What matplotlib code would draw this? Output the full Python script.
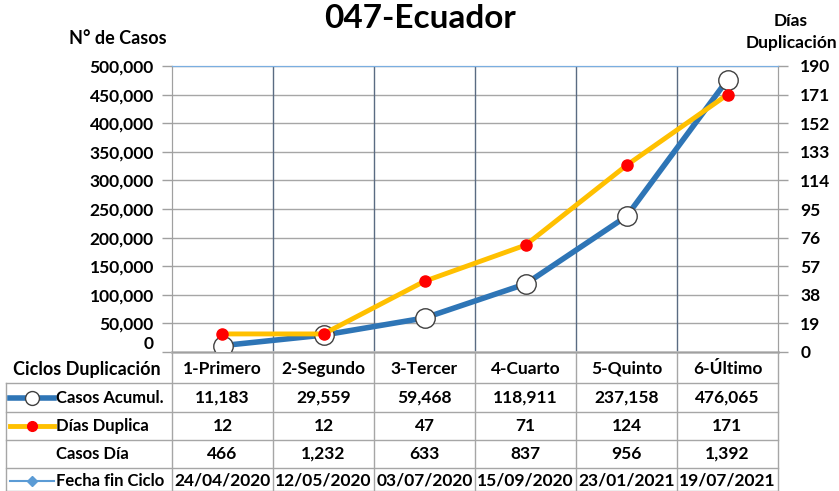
import matplotlib
matplotlib.use("Agg")
import matplotlib.pyplot as plt
import matplotlib.transforms as mtransforms
from matplotlib.lines import Line2D
from matplotlib.ticker import FuncFormatter

plt.rcParams['font.family'] = ['Lato', 'DejaVu Sans']

ciclos = ['1-Primero', '2-Segundo', '3-Tercer', '4-Cuarto', '5-Quinto', '6-Último']
casos_acum = [11183, 29559, 59468, 118911, 237158, 476065]
dias_dup = [12, 12, 47, 71, 124, 171]
casos_dia = [466, 1232, 633, 837, 956, 1392]
fecha_fin = ['24/04/2020', '12/05/2020', '03/07/2020', '15/09/2020', '23/01/2021', '19/07/2021']

W, H = 839, 491
fig = plt.figure(figsize=(W / 100, H / 100), dpi=100)

def fx(px):
    return px / W

def fy(py):
    return 1 - py / H

# plot area in pixels
L, R, T, B = 172, 778, 66, 352
ax = fig.add_axes([fx(L), fy(B), fx(R - L), (B - T) / H])
ax2 = ax.twinx()

n = len(ciclos)
x = list(range(n))
ax.set_xlim(-0.5, n - 0.5)
ax.set_ylim(0, 500000)
ax.set_yticks(range(0, 500001, 50000))
ax.yaxis.set_major_formatter(FuncFormatter(lambda v, p: f'{int(v):,}'))
ax2.set_ylim(0, 190)
ax2.set_yticks(range(0, 191, 19))
ax.set_xticks([])

for a in (ax, ax2):
    a.tick_params(axis='y', length=7, width=1, color='#a0a0a0', labelsize=12.5)
    for lab in a.get_yticklabels():
        lab.set_fontweight('bold')
    for s in a.spines.values():
        s.set_color('#a0a0a0')
ax.tick_params(axis='y', pad=6)
ax2.tick_params(axis='y', pad=9)
# lift the left "0" a little so it clears the table header
ax.yaxis.get_major_ticks()[0].label1.set_va('bottom')
ax.spines['top'].set_color('#7aaee0')
ax2.spines['top'].set_color('#7aaee0')
ax.spines['bottom'].set_color('#bfbfbf')
ax.spines['bottom'].set_linewidth(2)

ax.yaxis.grid(True, color='#a6a6a6', linewidth=1)
ax.set_axisbelow(True)

# series
ax.plot(x, casos_acum, color='#2e75b6', linewidth=4, zorder=3,
        marker='o', markersize=14, markerfacecolor='white',
        markeredgecolor='#404040', markeredgewidth=1)
ax2.plot(x, dias_dup, color='#ffc000', linewidth=3.5, zorder=4,
         marker='o', markersize=8, markerfacecolor='#ff0000',
         markeredgecolor='#ff0000')

# titles
fig.text(fx(420), fy(19), '047-Ecuador', ha='center', va='center',
         fontsize=24, fontweight='bold')
fig.text(fx(118), fy(38), 'N° de Casos', ha='center', va='center',
         fontsize=13, fontweight='bold')
fig.text(fx(791), fy(32), 'Días\nDuplicación', ha='center', va='center',
         fontsize=12.5, fontweight='bold', linespacing=1.45)

# data table below the chart
trans = mtransforms.blended_transform_factory(ax.transData, fig.transFigure)
row_y = [369, 398, 426, 454, 481]
row_lines = [383, 412, 440, 468, 491]
TL = 6

# vertical category dividers, in plot and through the table
for b in [i - 0.5 for i in range(n + 1)]:
    if 0 < b < n - 1:
        ax.axvline(b, color='#5a6b82', linewidth=1, zorder=1)
    fig.add_artist(Line2D([b, b], [fy(B), fy(H)], transform=trans,
                          color='#a6a6a6', linewidth=1))
for ly in row_lines:
    fig.add_artist(Line2D([fx(TL), fx(R)], [fy(ly), fy(ly)],
                          color='#a6a6a6', linewidth=1))
fig.add_artist(Line2D([fx(TL), fx(TL)], [fy(383), fy(H)],
                      color='#a6a6a6', linewidth=1))

fig.text(fx(87), fy(row_y[0]), 'Ciclos Duplicación', ha='center', va='center',
         fontsize=13, fontweight='bold')
rows = [ciclos,
        [f'{v:,}' for v in casos_acum],
        [str(v) for v in dias_dup],
        [f'{v:,}' for v in casos_dia],
        fecha_fin]
for ry, vals in zip(row_y, rows):
    for i, v in enumerate(vals):
        fig.text(i, fy(ry), v, transform=trans, ha='center', va='center',
                 fontsize=12.5, fontweight='bold')

labels = ['Casos Acumul.', 'Días Duplica', 'Casos Día', 'Fecha fin Ciclo']
for ry, lab in zip(row_y[1:], labels):
    fig.text(fx(56), fy(ry), lab, ha='left', va='center',
             fontsize=12, fontweight='bold')

kx = [fx(10), fx(54)]
fig.add_artist(Line2D(kx, [fy(row_y[1])] * 2, color='#2e75b6', linewidth=4))
fig.add_artist(Line2D([fx(32)], [fy(row_y[1])], marker='o', markersize=10,
                      markerfacecolor='white', markeredgecolor='#404040'))
fig.add_artist(Line2D(kx, [fy(row_y[2])] * 2, color='#ffc000', linewidth=3.5))
fig.add_artist(Line2D([fx(32)], [fy(row_y[2])], marker='o', markersize=7,
                      markerfacecolor='#ff0000', markeredgecolor='#ff0000'))
fig.add_artist(Line2D(kx, [fy(row_y[4])] * 2, color='#5b9bd5', linewidth=1.5))
fig.add_artist(Line2D([fx(32)], [fy(row_y[4])], marker='D', markersize=5,
                      markerfacecolor='#5b9bd5', markeredgecolor='#5b9bd5'))

fig.savefig('out.png', dpi=100)
